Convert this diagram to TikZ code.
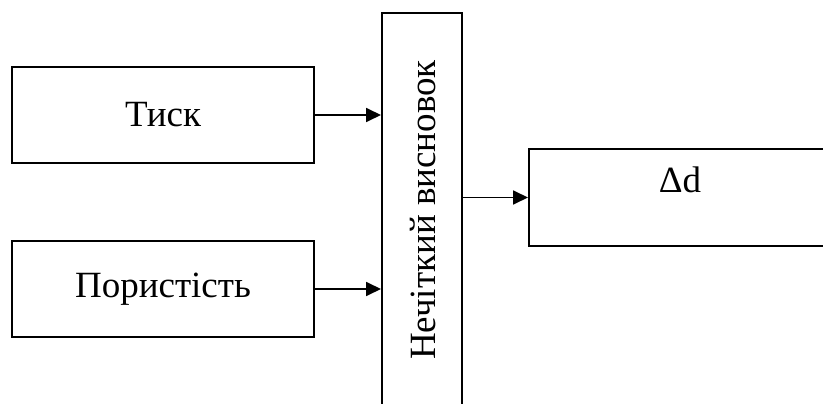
\documentclass[tikz,border=0pt]{standalone}
\usepackage{fontspec}
\setmainfont{Liberation Serif}
\newfontfamily\blockfont{Liberation Serif}
\usetikzlibrary{arrows.meta}
\begin{document}
\begin{tikzpicture}[x=1pt,y=-1pt,
  blk/.style={draw,line width=2pt,rectangle,inner sep=0pt},
  lbl/.style={font=\blockfont\fontsize{37}{44}\selectfont,inner sep=0pt},
  conn/.style={line width=1.8pt,-{Triangle[length=15pt,width=14pt]}}]
\useasboundingbox (0,0) rectangle (823,404);
\clip (0,0) rectangle (823,404);
% input blocks
\node[blk,minimum width=302pt,minimum height=96pt] (t) at (163,115) {};
\node[lbl] at (t.center) {Тиск};
\node[blk,minimum width=302pt,minimum height=96pt] (p) at (163,289) {};
\node[lbl] at (p.center) {Пористість};
% inference block (runs past the lower edge)
\node[blk,minimum width=80pt,minimum height=417pt] (f) at (422,221.5) {};
\node[lbl,rotate=90] at (423,210) {Нечіткий висновок};
% output block (runs past the right edge)
\node[blk,minimum width=311pt,minimum height=97pt] (d) at (684.5,197.5) {};
\node[lbl,anchor=base] at (680,193) {Δd};
% connectors
\draw[conn] (t.east) -- (t.east -| f.west);
\draw[conn] (p.east) -- (p.east -| f.west);
\draw[conn] (f.east |- d.west) -- (d.west);
\end{tikzpicture}
\end{document}
